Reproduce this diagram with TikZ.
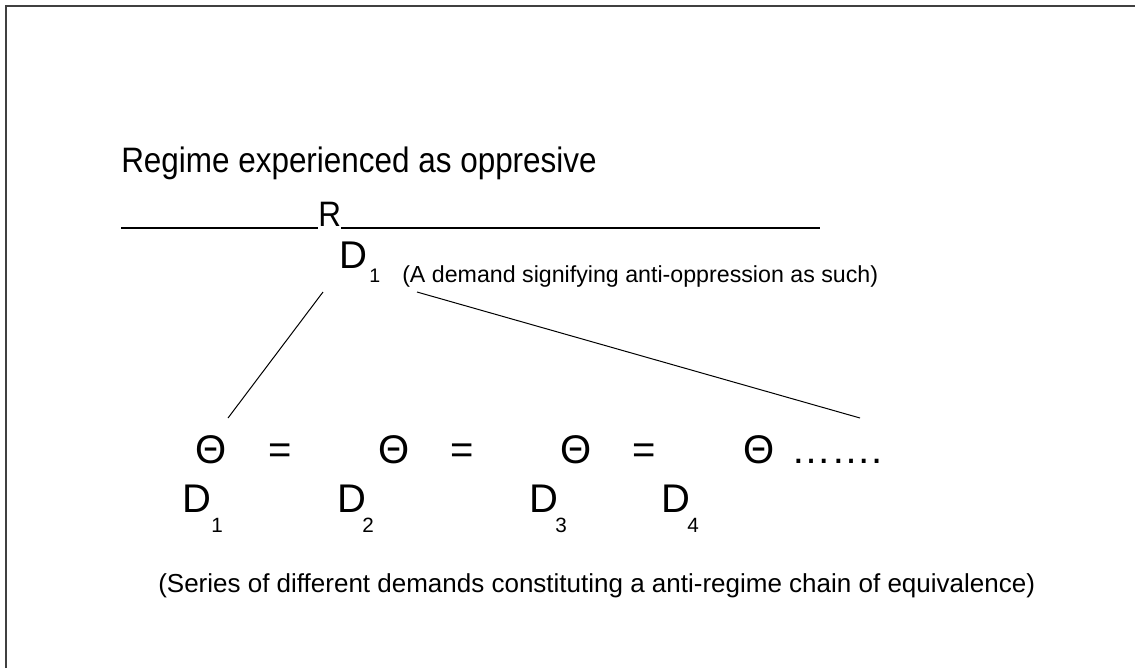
\documentclass[tikz,border=0pt]{standalone}
\usepackage{fontspec}
\setmainfont{Liberation Sans}
\newfontfamily\condfont[FakeStretch=0.89]{Liberation Sans}
\begin{document}
\begin{tikzpicture}[x=0.75pt,y=-0.75pt,
  head/.style={inner sep=0pt, anchor=base west, font=\condfont\fontsize{26.5}{30}\selectfont},
  big/.style={inner sep=0pt, anchor=base west, font=\fontsize{30}{32}\selectfont},
  subs/.style={inner sep=0pt, anchor=base west, font=\fontsize{15.5}{17}\selectfont},
  note/.style={inner sep=0pt, anchor=base west, font=\fontsize{17.4}{19}\selectfont},
  bnote/.style={inner sep=0pt, anchor=base west, font=\fontsize{19.5}{22}\selectfont},
  frame/.style={draw=black!75, line width=1.1pt},
  rule/.style={line width=2.2pt},
  link/.style={line width=0.75pt}]
\useasboundingbox (0,0) rectangle (1135,668);
\draw[frame] (6,668) -- (6,6) -- (1135,6);
% title
\node[head] (title) at (121,172) {Regime experienced as oppresive};
% R on the rule
\node[head] (R) at (318,226) {R};
\coordinate (ruleL) at (121,228);
\coordinate (ruleR) at (820,228);
\draw[rule] (ruleL) -- (ruleL -| R.west);
\draw[rule] (ruleR -| R.east) -- (ruleR);
% top D1
\node[big, font=\fontsize{29}{31}\selectfont] (Dtop) at (339,268) {D};
\node[subs, font=\fontsize{14.7}{16}\selectfont] (Dtopsub) at (369,282) {1};
\node[note] (anno) at (402,282) {(A demand signifying anti-oppression as such)};
% chain
\node[big] (t1) at (195,463) {Θ};
\node[big] (e1) at (268,463) {=};
\node[big] (t2) at (378,463) {Θ};
\node[big] (e2) at (450,463) {=};
\node[big] (t3) at (560,463) {Θ};
\node[big] (e3) at (632,463) {=};
\node[big] (t4) at (743,463) {Θ};
\node[big] (dots) at (791,463) {…….};
\node[big] (d1) at (182,512) {D};
\node[subs] (d1s) at (211,532) {1};
\node[big] (d2) at (337,512) {D};
\node[subs] (d2s) at (362,532) {2};
\node[big] (d3) at (529,512) {D};
\node[subs] (d3s) at (555,532) {3};
\node[big] (d4) at (661,512) {D};
\node[subs] (d4s) at (687,532) {4};
% connectors
\coordinate (c1a) at (323,292);
\coordinate (c1b) at (228,418);
\coordinate (c2a) at (417,292);
\coordinate (c2b) at (860,418);
\draw[link] (c1a) -- (c1b);
\draw[link] (c2a) -- (c2b);
% bottom note
\node[bnote] (bottom) at (158,592) {(Series of different demands constituting a anti-regime chain of equivalence)};
\end{tikzpicture}
\end{document}
